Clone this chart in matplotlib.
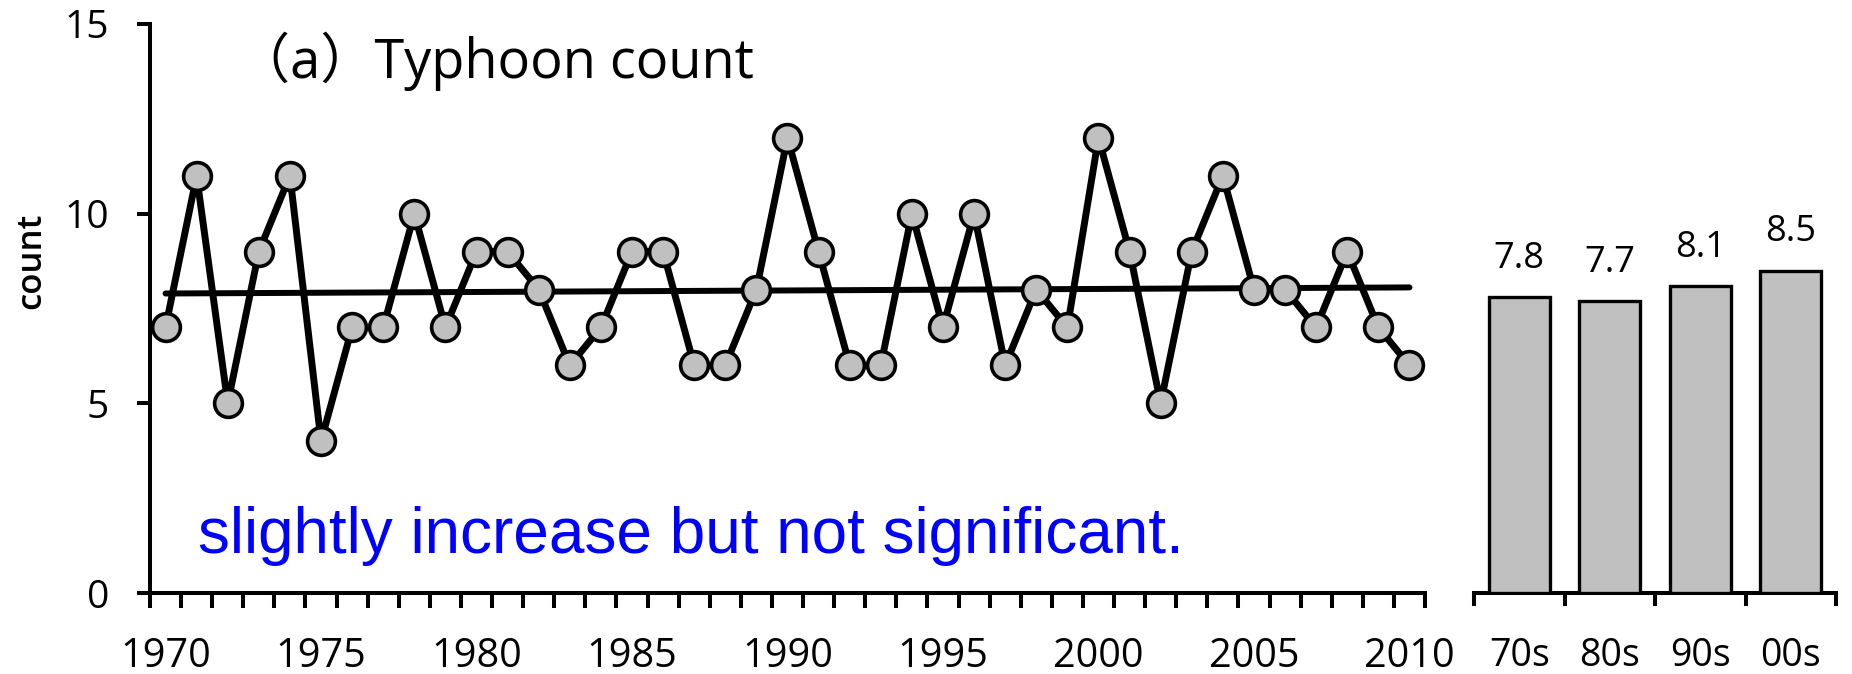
import numpy as np
import matplotlib
matplotlib.use("Agg")
import matplotlib.pyplot as plt

years = list(range(1970, 2011))
counts = [7, 11, 5, 9, 11, 4, 7, 7, 10, 7,
          9, 9, 8, 6, 7, 9, 9, 6, 6, 8,
          12, 9, 6, 6, 10, 7, 10, 6, 8, 7,
          12, 9, 5, 9, 11, 8, 8, 7, 9, 7,
          6]
decades = ["70s", "80s", "90s", "00s"]
decade_means = [7.8, 7.7, 8.1, 8.5]
year_ticks = [1970, 1975, 1980, 1985, 1990, 1995, 2000, 2005, 2010]
count_ticks = [0, 5, 10, 15]

plt.rcParams["font.family"] = ["Open Sans", "Noto Sans CJK SC", "DejaVu Sans"]

W, H = 1852, 674
fig = plt.figure(figsize=(W / 100, H / 100), dpi=100)

GRAY = "#c0c0c0"
LW = 2.9
ax = fig.add_axes([150 / W, 1 - 593 / H, (1425 - 150) / W, (593 - 24) / H])
bx = fig.add_axes([1474 / W, 1 - 593 / H, (1836 - 1474) / W, (593 - 24) / H])

# annual series
ax.plot(years, counts, color="black", lw=5.0, marker="o", ms=20,
        mfc=GRAY, mec="black", mew=2.6, zorder=3)

# least-squares trend
slope, intercept = np.polyfit(years, counts, 1)
yr = np.array([years[0], years[-1]])
ax.plot(yr, slope * yr + intercept, color="black", lw=4.3, zorder=2,
        solid_capstyle="round")

ax.set_xlim(1969.5, 2010.5)
ax.set_ylim(0, 15)
for s in ("top", "right"):
    ax.spines[s].set_visible(False)
for s in ("left", "bottom"):
    ax.spines[s].set_linewidth(LW)
ax.set_yticks(count_ticks)
ax.set_yticklabels([str(v) for v in count_ticks], fontsize=28)
ax.tick_params(axis="y", direction="out", length=9.5, width=LW, pad=20)
ax.set_xticks(year_ticks)
ax.set_xticklabels([str(v) for v in year_ticks], fontsize=28.5)
ax.set_xticks(np.arange(1969.5, 2011, 1.0), minor=True)
ax.tick_params(axis="x", which="major", length=0, pad=31)
ax.tick_params(axis="x", which="minor", direction="out", length=11, width=LW)

fig.text(31 / W, 1 - 261 / H, "count", rotation=90, ha="center", va="center",
         fontsize=25, fontweight="semibold")
fig.text(236 / W, 1 - 78 / H, "（a）Typhoon count", ha="left", va="baseline",
         fontsize=39)
fig.text(198 / W, 1 - 553 / H, "slightly increase but not significant.",
         ha="left", va="baseline", fontsize=46, color="#0000ff",
         family=["Liberation Sans", "DejaVu Sans"])

# decadal means
xpos = np.arange(len(decades))
bx.bar(xpos, decade_means, width=0.67, color=GRAY, edgecolor="black",
       linewidth=2.4, zorder=3)
for x, v in zip(xpos, decade_means):
    bx.annotate(f"{v:.1f}", (x, v), xytext=(0, 21), textcoords="offset points",
                ha="center", va="baseline", fontsize=26)
bx.set_xlim(-0.5, 3.5)
bx.set_ylim(0, 15)
for s in ("top", "right", "left"):
    bx.spines[s].set_visible(False)
bx.spines["bottom"].set_linewidth(LW)
bx.set_yticks([])
bx.set_xticks(xpos)
bx.set_xticklabels(decades, fontsize=27)
bx.set_xticks(np.arange(-0.5, 3.6, 1.0), minor=True)
bx.tick_params(axis="x", which="major", length=0, pad=32)
bx.tick_params(axis="x", which="minor", direction="out", length=9.5, width=LW)

fig.savefig("out.png", dpi=100)
